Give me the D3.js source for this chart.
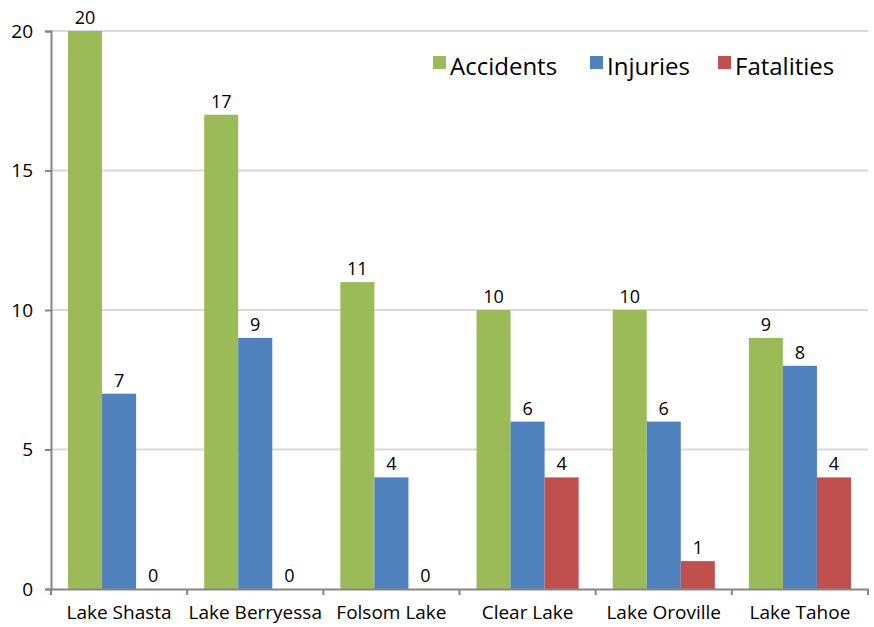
<!DOCTYPE html>
<meta charset="utf-8">
<script src="https://d3js.org/d3.v7.min.js"></script>
<style>
    body { margin: 0; background: #fff; }
    text { font-family: "Open Sans", "DejaVu Sans", sans-serif; fill: #000; }
</style>
<body>
</body>
<script>
    // chart data
    var lakes = ["Lake Shasta", "Lake Berryessa", "Folsom Lake", "Clear Lake", "Lake Oroville", "Lake Tahoe"];
    var seriesNames = ["Accidents", "Injuries", "Fatalities"];
    var accidents = [20, 17, 11, 10, 10, 9];
    var injuries = [7, 9, 4, 6, 6, 8];
    var fatalities = [0, 0, 0, 4, 1, 4];
    var yTicks = [0, 5, 10, 15, 20];
    var colors = ["#9BBB59", "#4F81BD", "#C0504D"];

    var margin = {top: 31, right: 6, bottom: 38, left: 51},
        width = 874 - margin.left - margin.right,
        height = 627 - margin.top - margin.bottom;

    var svg = d3.select("body")
        .append("svg")
            .attr("width", 874)
            .attr("height", 627)
        .append("g")
            .attr("transform", "translate(" + margin.left + "," + margin.top + ")");

    var values = [accidents, injuries, fatalities];
    var rows = lakes.map(function(lake, i) {
        return {lake: lake, vals: values.map(function(s, j) { return {k: j, v: s[i]}; })};
    });

    var x0 = d3.scaleBand().domain(lakes).range([0, width])
        .paddingInner(0.25).paddingOuter(0.125);
    var x1 = d3.scaleBand().domain(d3.range(3)).range([0, x0.bandwidth()]);
    var y = d3.scaleLinear().domain([0, 20]).range([height, 0]);

    // gridlines
    svg.selectAll(".grid")
        .data(yTicks.filter(function(d) { return d > 0; }))
        .enter().append("line")
            .attr("x1", 0).attr("x2", width)
            .attr("y1", function(d) { return y(d); })
            .attr("y2", function(d) { return y(d); })
            .attr("stroke", "#d9d9d9")
            .attr("stroke-width", 2);

    // bars
    var groups = svg.selectAll(".group")
        .data(rows)
        .enter().append("g")
            .attr("transform", function(d) { return "translate(" + x0(d.lake) + ",0)"; });

    groups.selectAll("rect")
        .data(function(d) { return d.vals; })
        .enter().append("rect")
            .attr("x", function(d) { return x1(d.k); })
            .attr("width", x1.bandwidth())
            .attr("y", function(d) { return y(d.v); })
            .attr("height", function(d) { return height - y(d.v); })
            .attr("fill", function(d) { return colors[d.k]; });

    groups.selectAll(".lbl")
        .data(function(d) { return d.vals; })
        .enter().append("text")
            .attr("x", function(d) { return x1(d.k) + x1.bandwidth() / 2; })
            .attr("y", function(d) { return y(d.v) - 7; })
            .attr("text-anchor", "middle")
            .style("font-size", "18px")
            .text(function(d) { return d.v; });

    // y axis
    var yAxis = svg.append("g")
        .call(d3.axisLeft(y).tickValues(yTicks).tickSize(6).tickPadding(12));
    yAxis.select(".domain").attr("stroke", "#868686").attr("stroke-width", 2);
    yAxis.selectAll(".tick line").attr("stroke", "#868686").attr("stroke-width", 2);
    yAxis.selectAll(".tick text").style("font-size", "19px").style("fill", "#000");

    // x axis
    var xAxis = svg.append("g")
        .attr("transform", "translate(0," + height + ")")
        .call(d3.axisBottom(x0).tickSize(0).tickPadding(17));
    xAxis.select(".domain").attr("stroke", "#868686").attr("stroke-width", 2);
    xAxis.selectAll(".tick text").style("font-size", "19px").style("fill", "#000");

    // category boundary ticks
    svg.selectAll(".xtick")
        .data(d3.range(lakes.length + 1))
        .enter().append("line")
            .attr("x1", function(i) { return i * x0.step(); })
            .attr("x2", function(i) { return i * x0.step(); })
            .attr("y1", height).attr("y2", height + 6)
            .attr("stroke", "#868686")
            .attr("stroke-width", 2);

    // legend
    var legendX = [382, 539, 667];
    var legend = svg.selectAll(".legend")
        .data(seriesNames)
        .enter().append("g")
            .attr("transform", function(d, i) { return "translate(" + legendX[i] + ",25)"; });
    legend.append("rect")
        .attr("width", 13).attr("height", 13)
        .attr("fill", function(d, i) { return colors[i]; });
    legend.append("text")
        .attr("x", 17).attr("y", 19)
        .style("font-size", "24px")
        .text(function(d) { return d; });
</script>
